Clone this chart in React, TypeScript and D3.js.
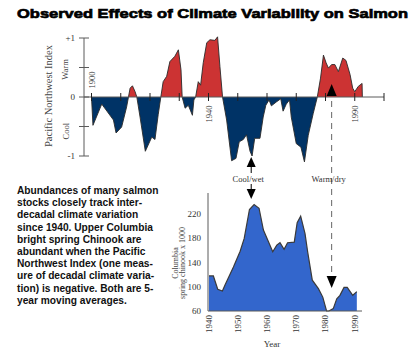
import React from "react";
import * as d3 from "d3";

// ---- Data ----
const pniYears = [1900, 1900.5, 1903.5, 1907.5, 1908.4, 1910.3, 1912, 1913.2, 1914, 1914.9, 1915.5, 1916.6, 1918.4, 1920.6, 1921.7, 1922.8, 1923.7, 1924.5, 1925.7, 1926.8, 1928.5, 1929.7, 1930.6, 1931, 1932, 1933.1, 1934.5, 1935, 1935.6, 1936.5, 1937.3, 1938.2, 1939.4, 1940.5, 1942.2, 1943.1, 1943.9, 1944.8, 1946.2, 1947.9, 1949.4, 1950.5, 1951.9, 1953, 1954.2, 1954.9, 1955.8, 1957.6, 1958.7, 1959.6, 1960.7, 1961.5, 1963.3, 1964.7, 1965.5, 1966.6, 1967.7, 1968.3, 1970, 1971.6, 1972.8, 1974.1, 1975.8, 1977.2, 1978.3, 1979.3, 1980.2, 1981, 1982.1, 1983.2, 1984.4, 1985.9, 1987, 1988.4, 1989.3, 1990, 1991.2, 1992.5, 1992.6];
const pniValues = [0, -0.48, -0.12, -0.39, -0.61, -0.51, -0.17, 0.15, 0.19, 0.09, 0, -0.34, -0.92, -0.68, -0.72, -0.3, 0, 0.26, 0.35, 0.6, 0.69, 0.8, 0.46, 0, -0.19, -0.14, -0.31, -0.05, 0, 0.26, 0.2, 0.58, 0.92, 0.97, 0.96, 1.02, 0.52, 0, -0.39, -1.08, -1.04, -0.76, -0.72, -0.64, -0.92, -1.0, -0.7, -0.7, -0.34, -0.14, -0.05, -0.15, -0.08, -0.03, -0.24, -0.12, -0.05, -0.34, -0.79, -0.85, -1.1, -0.65, -0.28, 0, 0.32, 0.71, 0.58, 0.49, 0.55, 0.55, 0.43, 0.66, 0.62, 0.38, 0.15, 0.09, 0.18, 0.23, 0];
const pniTicks = [-1, -0.5, 0, 0.5, 1];
const pniTickLabels = ["-1", "", "0", "", "+1"];
const pniYearTicks = [1900, 1910, 1920, 1930, 1940, 1950, 1960, 1970, 1980, 1990, 2000];
const pniYearLabelsAbove = [1900];
const pniYearLabelsBelow = [1940, 1990];

const salmonYears = [1940, 1941.5, 1943, 1944.6, 1945.5, 1948.4, 1950.7, 1952.1, 1953.9, 1955.5, 1957.2, 1958.7, 1960.4, 1961.9, 1963.3, 1964.4, 1965.8, 1967, 1969.3, 1970.3, 1971.5, 1973, 1973.9, 1975.5, 1977.6, 1979.1, 1980.4, 1981.2, 1982.7, 1983.9, 1985, 1986.4, 1987.5, 1989.4, 1990.8];
const salmonValues = [118, 118, 96, 93, 103, 133, 159, 180, 228, 236, 230, 194, 175, 158, 169, 173, 162, 173, 174, 206, 217, 188, 158, 111, 97, 83, 60, 60, 64, 80, 86, 99, 99, 86, 92];
const salmonTicks = [60, 100, 140, 180, 220];
const salmonYearTicks = [1940, 1950, 1960, 1970, 1980, 1990];

const coolWetYear = 1954.6;
const warmDryYear = 1982.1;

const titleText = "Observed Effects of Climate Variability on Salmon";
const paragraph = [
  "Abundances of many salmon",
  "stocks closely track inter-",
  "decadal climate variation",
  "since 1940. Upper Columbia",
  "bright spring Chinook are",
  "abundant when the Pacific",
  "Northwest Index (one meas-",
  "ure of decadal climate varia-",
  "tion) is negative. Both are 5-",
  "year moving averages.",
];

const SERIF = "'Liberation Serif', 'DejaVu Serif', serif";
const SANS = "'Liberation Sans', Arial, sans-serif";
const AXIS = "#5a5a5a";

export default function App() {
  // top chart scales
  const xTop = d3.scaleLinear().domain([1900, 2000]).range([91.5, 384]);
  const yTop = d3.scaleLinear().domain([-1, 1]).range([156, 38]);
  const pni = pniYears.map((y, i) => ({ y, v: pniValues[i] }));
  const areaTop = d3.area<any>().x((d) => xTop(d.y)).y0(yTop(0)).y1((d) => yTop(d.v));
  const lineTop = d3.line<any>().x((d) => xTop(d.y)).y((d) => yTop(d.v));

  // bottom chart scales
  const xBot = d3.scaleLinear().domain([1940, 1990]).range([209, 354.5]);
  const yBot = d3.scaleLinear().domain([60, 220]).range([311, 214.3]);
  const sal = salmonYears.map((y, i) => ({ y, v: salmonValues[i] }));
  const areaBot = d3.area<any>().x((d) => xBot(d.y)).y0(yBot(60)).y1((d) => yBot(d.v));
  const lineBot = d3.line<any>().x((d) => xBot(d.y)).y((d) => yBot(d.v));

  const axX = xTop(1900) - 7.5; // y-axis x position
  const xCool = xTop(coolWetYear);
  const xWarm = xTop(warmDryYear);

  return (
    <svg width={414} height={364} style={{ position: "absolute", left: 0, top: 0, background: "#fff" }}>
      <rect x={0} y={0} width={414} height={364} fill="#fff" />
      {/* Title */}
      <text x={17} y={17.5} fontFamily={SANS} fontWeight={900} fontSize={13.5} stroke="#000" strokeWidth={0.7}
        textLength={391} lengthAdjust="spacingAndGlyphs">{titleText}</text>

      {/* ---- Top chart ---- */}
      <defs>
        <clipPath id="above"><rect x={0} y={0} width={414} height={yTop(0)} /></clipPath>
        <clipPath id="below"><rect x={0} y={yTop(0)} width={414} height={200} /></clipPath>
      </defs>
      <path d={areaTop(pni) || ""} fill="#cc3333" clipPath="url(#above)" />
      <path d={areaTop(pni) || ""} fill="#003366" clipPath="url(#below)" />
      <path d={lineTop(pni) || ""} fill="none" stroke="#2a2a2a" strokeWidth={0.9} />
      {/* baseline */}
      <line x1={axX} x2={xTop(2000)} y1={yTop(0)} y2={yTop(0)} stroke={AXIS} strokeWidth={1} />
      {/* y axis */}
      <line x1={axX} x2={axX} y1={yTop(1)} y2={yTop(-1)} stroke={AXIS} strokeWidth={1} />
      {pniTicks.map((t, i) => (
        <g key={"yt" + i}>
          <line x1={axX - 5} x2={axX + 5} y1={yTop(t)} y2={yTop(t)} stroke={AXIS} strokeWidth={1} />
          {pniTickLabels[i] && (
            <text x={axX - 9} y={yTop(t) + 3} textAnchor="end" fontFamily={SERIF} fontSize={9} fill="#333">{pniTickLabels[i]}</text>
          )}
        </g>
      ))}
      {pniYearTicks.map((t) => (
        <line key={"xt" + t} x1={xTop(t)} x2={xTop(t)} y1={yTop(0) - 4} y2={yTop(0) + 4} stroke="#222" strokeWidth={1} />
      ))}
      {pniYearLabelsAbove.map((t) => (
        <text key={"la" + t} transform={`translate(${xTop(t) + 3},${yTop(0) - 17}) rotate(-90)`} textAnchor="middle"
          fontFamily={SERIF} fontSize={8.5} fill="#333">{t}</text>
      ))}
      {pniYearLabelsBelow.map((t) => (
        <text key={"lb" + t} transform={`translate(${xTop(t) + 3},${yTop(0) + 17}) rotate(-90)`} textAnchor="middle"
          fontFamily={SERIF} fontSize={8.5} fill="#333">{t}</text>
      ))}
      <text transform={`translate(${axX - 16},${yTop(0.5) + 2}) rotate(-90)`} textAnchor="middle" fontFamily={SERIF} fontSize={8.5} fill="#444">Warm</text>
      <text transform={`translate(${axX - 15},${yTop(-0.58)}) rotate(-90)`} textAnchor="middle" fontFamily={SERIF} fontSize={8.5} fill="#444">Cool</text>
      <text transform={`translate(${axX - 32},${yTop(0) - 1}) rotate(-90)`} textAnchor="middle" fontFamily={SERIF} fontSize={10.5} fill="#444">Pacific Northwest Index</text>

      {/* ---- Annotations ---- */}
      {/* cool/wet */}
      <path d={`M${xCool},157 L${xCool + 4.5},167 L${xCool - 4.5},167 Z`} fill="#000" />
      <line x1={xCool} x2={xCool} y1={167} y2={173} stroke="#000" strokeWidth={1} />
      <text x={xCool - 3} y={182} textAnchor="middle" fontFamily={SERIF} fontSize={8.5} fill="#333">Cool/wet</text>
      <line x1={xCool} x2={xCool} y1={184} y2={190} stroke="#000" strokeWidth={1} />
      <path d={`M${xCool - 4.5},189 L${xCool + 4.5},189 L${xCool},199 Z`} fill="#000" />
      {/* warm/dry */}
      <path d={`M${xWarm},84 L${xWarm + 5},96 L${xWarm - 5},96 Z`} fill="#000" />
      <line x1={xWarm} x2={xWarm} y1={101} y2={277} stroke="#666" strokeWidth={1} strokeDasharray="6,5" />
      <text x={xWarm - 3} y={182} textAnchor="middle" fontFamily={SERIF} fontSize={8.5} fill="#333">Warm/dry</text>
      <path d={`M${xWarm - 5},276 L${xWarm + 5},276 L${xWarm},288 Z`} fill="#000" />

      {/* ---- Bottom chart ---- */}
      <path d={areaBot(sal) || ""} fill="#3366cc" />
      <path d={lineBot(sal) || ""} fill="none" stroke="#3a3a3a" strokeWidth={1.2} />
      <line x1={xBot(1940) - 1} x2={xBot(1940) - 1} y1={193} y2={yBot(60)} stroke={AXIS} strokeWidth={1} />
      <line x1={xBot(1940) - 1} x2={362} y1={yBot(60)} y2={yBot(60)} stroke={AXIS} strokeWidth={1} />
      {salmonTicks.map((t) => (
        <text key={"sy" + t} x={201} y={yBot(t) + 3} textAnchor="end" fontFamily={SERIF} fontSize={9} fill="#333">{t}</text>
      ))}
      {salmonYearTicks.map((t) => (
        <text key={"sx" + t} transform={`translate(${xBot(t) + 3},${315}) rotate(-90)`} textAnchor="end"
          fontFamily={SERIF} fontSize={9} fill="#333">{t}</text>
      ))}
      <text x={272} y={347} textAnchor="middle" fontFamily={SERIF} fontSize={9} fill="#333">Year</text>
      <text transform={`translate(177.5,263) rotate(-90)`} textAnchor="middle" fontFamily={SERIF} fontSize={8} fill="#444">Columbia</text>
      <text transform={`translate(184.5,263) rotate(-90)`} textAnchor="middle" fontFamily={SERIF} fontSize={8} fill="#444">spring chinook x 1000</text>

      {/* ---- Paragraph ---- */}
      {paragraph.map((line, i) => (
        <text key={"p" + i} x={17} y={194 + i * 12.2} fontFamily={SANS} fontWeight={700} fontSize={10.2} fill="#111">{line}</text>
      ))}
    </svg>
  );
}
